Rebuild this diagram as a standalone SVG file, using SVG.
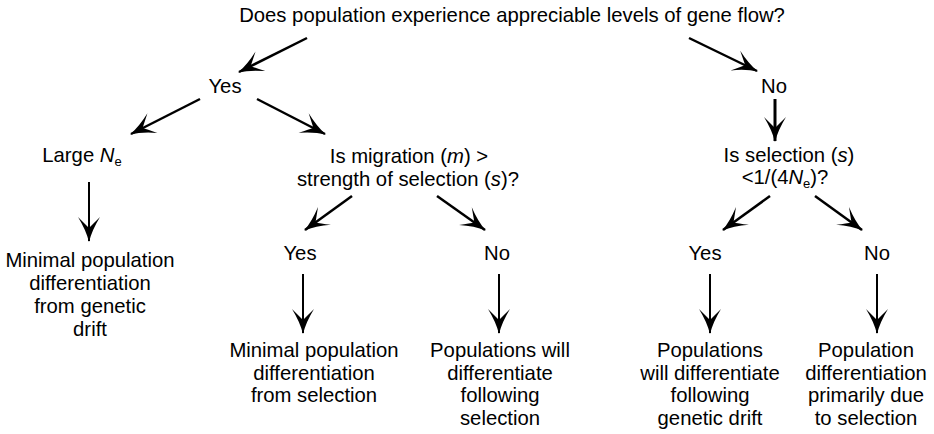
<svg xmlns="http://www.w3.org/2000/svg" width="934" height="434" viewBox="0 0 934 434">
<style>
text{font-family:"Liberation Sans",Arial,sans-serif;font-size:20.3px;fill:#000;text-anchor:middle}
.i{font-style:italic}
.sub{font-size:13px}
.c line{stroke:#000;stroke-width:2;marker-end:url(#ah)}
.c .d{stroke-width:2.5}
</style>
<defs>
<marker id="ah" markerUnits="userSpaceOnUse" viewBox="-26 -12 28 24" refX="0" refY="0" markerWidth="28" markerHeight="24" orient="auto">
<path d="M1,0 Q-11,-3 -24,-11 Q-16,-3 -13,0 Q-16,3 -24,11 Q-11,3 1,0 Z" fill="#000"/>
</marker>
</defs>
<rect width="934" height="434" fill="#fff"/>
<g id="q1"><text x="512" y="22">Does population experience appreciable levels of gene flow?</text></g>
<g id="yes1"><text x="225" y="93">Yes</text></g>
<g id="no1"><text x="774" y="93">No</text></g>
<g id="large"><text x="82" y="162">Large <tspan class="i">N</tspan><tspan class="sub" dy="4">e</tspan></text></g>
<g id="q2"><text x="409" y="163">Is migration (<tspan class="i">m</tspan>) &gt;</text><text x="408" y="186">strength of selection (<tspan class="i">s</tspan>)?</text></g>
<g id="q3"><text x="789" y="162">Is selection (<tspan class="i">s</tspan>)</text><text x="785" y="184">&lt;1/(4<tspan class="i">N</tspan><tspan class="sub" dy="4">e</tspan><tspan dy="-4">)?</tspan></text></g>
<g id="res1"><text x="90" y="267">Minimal population</text><text x="90" y="290">differentiation</text><text x="90" y="313">from genetic</text><text x="90" y="336">drift</text></g>
<g id="yes2"><text x="300" y="260">Yes</text></g>
<g id="no2"><text x="497" y="260">No</text></g>
<g id="yes3"><text x="705" y="260">Yes</text></g>
<g id="no3"><text x="877" y="260">No</text></g>
<g id="res2"><text x="314" y="357">Minimal population</text><text x="314" y="380">differentiation</text><text x="314" y="402">from selection</text></g>
<g id="res3"><text x="500" y="357">Populations will</text><text x="500" y="380">differentiate</text><text x="500" y="402">following</text><text x="500" y="425">selection</text></g>
<g id="res4"><text x="710" y="357">Populations</text><text x="710" y="380">will differentiate</text><text x="710" y="402">following</text><text x="710" y="425">genetic drift</text></g>
<g id="res5"><text x="866" y="357">Population</text><text x="866" y="380">differentiation</text><text x="866" y="402">primarily due</text><text x="866" y="425">to selection</text></g>
<g class="c" id="connectors">
<line class="d" x1="307" y1="38" x2="239" y2="72"/>
<line class="d" x1="689" y1="38" x2="757" y2="71"/>
<line class="d" x1="200" y1="99" x2="131" y2="134"/>
<line class="d" x1="257" y1="99" x2="325" y2="134"/>
<line x1="775" y1="99" x2="775" y2="141" style="stroke-width:3"/>
<line x1="89" y1="182" x2="89" y2="241"/>
<line class="d" x1="352" y1="196" x2="305" y2="230"/>
<line class="d" x1="437" y1="196" x2="485" y2="230"/>
<line class="d" x1="770" y1="196" x2="723" y2="230"/>
<line class="d" x1="815" y1="196" x2="862" y2="230"/>
<line x1="303" y1="274" x2="303" y2="333"/>
<line x1="499" y1="274" x2="499" y2="333"/>
<line x1="710" y1="274" x2="710" y2="333"/>
<line x1="877" y1="274" x2="877" y2="333"/>
</g>
</svg>
